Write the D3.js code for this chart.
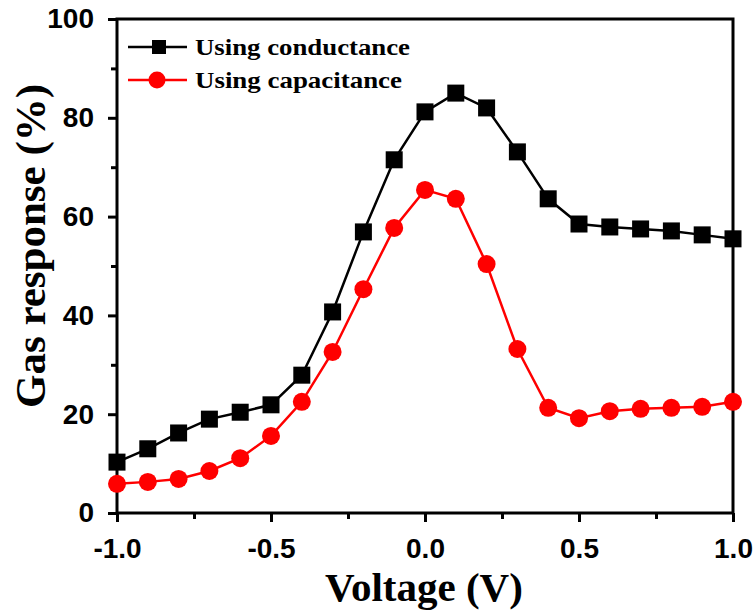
<!DOCTYPE html>
<html><head><meta charset="utf-8">
<script src="https://cdn.jsdelivr.net/npm/d3@7"></script>
<style>body{margin:0;background:#fff}</style>
</head><body>
<svg id="chart" width="755" height="612"></svg>
<script>
const voltage = [-1.0,-0.9,-0.8,-0.7,-0.6,-0.5,-0.4,-0.3,-0.2,-0.1,0.0,0.1,0.2,0.3,0.4,0.5,0.6,0.7,0.8,0.9,1.0];
const conductance = [10.3,13.0,16.2,19.0,20.4,21.9,27.9,40.7,56.9,71.5,81.2,85.0,82.0,73.1,63.6,58.5,57.9,57.5,57.1,56.3,55.5];
const capacitance = [5.9,6.3,6.9,8.5,11.1,15.6,22.5,32.6,45.3,57.7,65.4,63.6,50.4,33.2,21.3,19.2,20.6,21.1,21.3,21.5,22.5];
const xTicks = [-1.0,-0.5,0.0,0.5,1.0];
const xMinor = [-0.75,-0.25,0.25,0.75];
const yTicks = [0,20,40,60,80,100];
const yMinor = [10,30,50,70,90];
const seriesNames = ["Using conductance","Using capacitance"];

const svg = d3.select("#chart");
const L=117, R=733, T=19, B=513;
const x = d3.scaleLinear().domain([-1,1]).range([L,R]);
const y = d3.scaleLinear().domain([0,100]).range([B,T]);

const tickFont = "'Liberation Sans', Arial, sans-serif";
const titleFont = "'Liberation Serif', 'Times New Roman', serif";

// frame
svg.append("rect").attr("x",L).attr("y",T).attr("width",R-L).attr("height",B-T)
  .attr("fill","none").attr("stroke","#000").attr("stroke-width",3);

// x axis
const xa = svg.append("g").attr("transform",`translate(0,${B})`)
  .call(d3.axisBottom(x).tickValues(xTicks).tickFormat(d=>d.toFixed(1)).tickSize(9).tickSizeOuter(0));
xa.select(".domain").remove();
xa.selectAll("line").attr("stroke-width",3);
xa.selectAll("text").attr("font-family",tickFont).attr("font-weight","bold").attr("font-size",28)
  .attr("y",45).attr("dy",0).attr("fill","#000");
const xm = svg.append("g").attr("transform",`translate(0,${B})`)
  .call(d3.axisBottom(x).tickValues(xMinor).tickFormat("").tickSize(6).tickSizeOuter(0));
xm.select(".domain").remove();
xm.selectAll("line").attr("stroke-width",3);

// y axis
const ya = svg.append("g").attr("transform",`translate(${L},0)`)
  .call(d3.axisLeft(y).tickValues(yTicks).tickFormat(d3.format("d")).tickSize(9).tickSizeOuter(0));
ya.select(".domain").remove();
ya.selectAll("line").attr("stroke-width",3);
ya.selectAll("text").attr("font-family",tickFont).attr("font-weight","bold").attr("font-size",28)
  .attr("x",-23).attr("fill","#000");
const ym = svg.append("g").attr("transform",`translate(${L},0)`)
  .call(d3.axisLeft(y).tickValues(yMinor).tickFormat("").tickSize(6).tickSizeOuter(0));
ym.select(".domain").remove();
ym.selectAll("line").attr("stroke-width",3);

// titles
svg.append("text").attr("x",424).attr("y",601).attr("text-anchor","middle")
  .attr("font-family",titleFont).attr("font-weight","bold").attr("font-size",41).text("Voltage (V)");
svg.append("text").attr("transform",`translate(45,246) rotate(-90)`).attr("text-anchor","middle")
  .attr("font-family",titleFont).attr("font-weight","bold").attr("font-size",43).text("Gas response (%)");

const line = d3.line().x((d,i)=>x(voltage[i])).y(d=>y(d));
const plot = svg.append("g");
plot.append("path").datum(conductance).attr("d",line).attr("fill","none").attr("stroke","#000").attr("stroke-width",2.5);
plot.append("path").datum(capacitance).attr("d",line).attr("fill","none").attr("stroke","#f00").attr("stroke-width",2.5);
const sq=17;
plot.selectAll("rect.m").data(conductance).join("rect").attr("class","m")
  .attr("x",(d,i)=>x(voltage[i])-sq/2).attr("y",d=>y(d)-sq/2).attr("width",sq).attr("height",sq).attr("fill","#000");
plot.selectAll("circle.m").data(capacitance).join("circle").attr("class","m")
  .attr("cx",(d,i)=>x(voltage[i])).attr("cy",d=>y(d)).attr("r",9).attr("fill","#f00");

// legend
const lg = svg.append("g");
const legY=[47,80];
const colors=["#000","#f00"];
const legLen=[215,207];
seriesNames.forEach((n,i)=>{
  lg.append("line").attr("x1",128).attr("x2",187).attr("y1",legY[i]).attr("y2",legY[i]).attr("stroke",colors[i]).attr("stroke-width",2.5);
  if(i===0) lg.append("rect").attr("x",159-7).attr("y",legY[i]-7).attr("width",14).attr("height",14).attr("fill","#000");
  else lg.append("circle").attr("cx",157).attr("cy",legY[i]).attr("r",8.5).attr("fill","#f00");
  lg.append("text").attr("x",195).attr("y",legY[i]+8).attr("font-family",titleFont).attr("font-weight","bold")
    .attr("font-size",24).attr("textLength",legLen[i]).attr("lengthAdjust","spacingAndGlyphs").text(n);
});
</script>
</body></html>
